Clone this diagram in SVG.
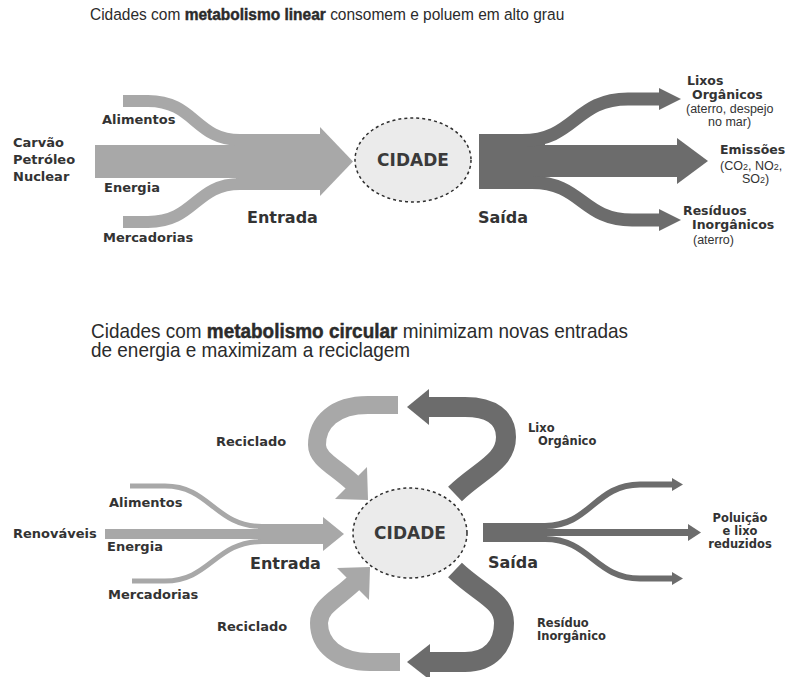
<svg xmlns="http://www.w3.org/2000/svg" width="795" height="677" viewBox="0 0 795 677">
<defs>
<style>
.title{font-family:"Liberation Sans",Arial,sans-serif;font-size:17px;fill:#2b2b2b}
.title2{font-size:19.5px}
.b{font-weight:bold;stroke:#2b2b2b;stroke-width:0.45}
.lbl{font-family:"DejaVu Sans",Verdana,sans-serif;font-weight:bold;font-size:13px;fill:#333}
.big{font-size:16px}
.mid{font-size:12.5px}
.sm{font-size:11.5px}
.note{font-family:"Liberation Sans",Arial,sans-serif;font-size:12.5px;fill:#333}
.sub{font-size:9px}
.in{fill:#a8a8a8}
.inS{fill:none;stroke:#a8a8a8}
.out{fill:#6c6c6c}
.outS{fill:none;stroke:#6c6c6c}
.city ellipse{fill:#ebebeb;stroke:#2e2e2e;stroke-width:1.5;stroke-dasharray:3 3}
.city text{font-family:"DejaVu Sans",Verdana,sans-serif;font-weight:bold;font-size:17px;fill:#3a3a3a;text-anchor:middle}
</style>
</defs>
<rect width="795" height="677" fill="#fff"/>

<!-- headings (slightly narrowed to the printed width) -->
<text id="title-linear" class="title" transform="translate(90,20) scale(0.912,1)">Cidades com <tspan class="b">metabolismo linear</tspan> consomem e poluem em alto grau</text>
<text id="title-circular" class="title title2" transform="translate(91,338) scale(0.972,1)"><tspan x="0" y="0">Cidades com <tspan class="b">metabolismo circular</tspan> minimizam novas entradas</tspan><tspan x="0" y="19">de energia e maximizam a reciclagem</tspan></text>

<g id="connectors">
<!-- linear: inputs -->
<rect class="in" x="95" y="145" width="228" height="33"/>
<rect class="in" x="236" y="134" width="87" height="56"/>
<polygon class="in" points="320,127 353,161.5 320,196"/>
<path class="inS" stroke-width="12" d="M123,101 H148 C195,101 195,140 240,140"/>
<path class="inS" stroke-width="12" d="M123,222 H148 C195,222 195,184 240,184"/>
<!-- linear: outputs -->
<rect class="out" x="479" y="134" width="66" height="55"/>
<rect class="out" x="479" y="145" width="200" height="32"/>
<polygon class="out" points="677,138 708,161 677,184"/>
<path class="outS" stroke-width="13" d="M479,140.5 H522 C575,140.5 575,99 628,99 H662"/>
<polygon class="out" points="659,88 681,99 659,110"/>
<path class="outS" stroke-width="13" d="M479,182.5 H532 C582,182.5 582,220 632,220 H662"/>
<polygon class="out" points="659,209 681,220 659,231"/>

<!-- circular: inputs -->
<rect class="in" x="105" y="529" width="220" height="10"/>
<rect class="in" x="258" y="524" width="67" height="20"/>
<polygon class="in" points="323,517 344,534 323,551"/>
<path class="inS" stroke-width="5" d="M130,486 H165 C210,486 215,526.5 262,526.5"/>
<path class="inS" stroke-width="5" d="M132,581 H165 C210,581 215,541.5 262,541.5"/>
<!-- circular: outputs -->
<rect class="out" x="483" y="523" width="64" height="19"/>
<rect class="out" x="483" y="529" width="207" height="7"/>
<polygon class="out" points="688,524 701,532.5 688,541"/>
<path class="outS" stroke-width="6" d="M483,526 H545 C590,526 595,484.5 640,484.5 H674"/>
<polygon class="out" points="672,478 683,484.5 672,491"/>
<path class="outS" stroke-width="6" d="M483,539 H545 C590,539 595,578.5 640,578.5 H674"/>
<polygon class="out" points="672,572 683,578.5 672,585"/>

<!-- circular: recycling loops -->
<path class="inS" stroke-width="18" d="M398,405 H368 C335,405 317,422 317,445 C317,460 337,467 356,486"/>
<polygon class="in" points="335,499 367,467 368,500"/>
<path class="inS" stroke-width="18" d="M400,662 H370 C338,662 319,645 319,623 C319,606 338,599 357,580"/>
<polygon class="in" points="337,568 369,600 370,567"/>
<path class="outS" stroke-width="20" d="M455,494 C480,470 506,462 506,437 C506,418 492,407 465,407 H427"/>
<polygon class="out" points="429,389 407,407 429,425"/>
<path class="outS" stroke-width="20" d="M455,570 C480,594 504,600 504,623 C504,646 490,662 465,662 H427"/>
<polygon class="out" points="430,644 407,662 430,680"/>
</g>

<g id="cidade-linear" class="city"><ellipse cx="413" cy="160" rx="58" ry="42"/><text x="413" y="166">CIDADE</text></g>
<g id="cidade-circular" class="city"><ellipse cx="410" cy="533" rx="57" ry="45"/><text x="410" y="539">CIDADE</text></g>

<!-- linear labels -->
<g id="src-linear" class="lbl"><text x="13" y="147">Carvão</text><text x="13" y="164">Petróleo</text><text x="13" y="181">Nuclear</text></g>
<g id="in-linear" class="lbl">
<text x="102" y="124">Alimentos</text>
<text x="104" y="192">Energia</text>
<text x="103" y="242">Mercadorias</text>
<text class="big" x="247" y="223">Entrada</text>
</g>
<g id="out-linear">
<text class="lbl big" x="478" y="223">Saída</text>
<text class="lbl mid" x="687" y="85">Lixos</text>
<text class="lbl mid" x="692" y="99">Orgânicos</text>
<text class="note" x="686" y="113">(aterro, despejo</text>
<text class="note" x="708" y="126">no mar)</text>
<text class="lbl mid" x="720" y="154">Emissões</text>
<text class="note" x="720" y="170">(CO<tspan class="sub">2</tspan>,  NO<tspan class="sub">2</tspan>,</text>
<text class="note" x="742" y="183">SO<tspan class="sub">2</tspan>)</text>
<text class="lbl mid" x="683" y="215">Resíduos</text>
<text class="lbl mid" x="692" y="229">Inorgânicos</text>
<text class="note" x="693" y="244">(aterro)</text>
</g>

<!-- circular labels -->
<g id="in-circular" class="lbl">
<text x="13" y="538">Renováveis</text>
<text x="109" y="507">Alimentos</text>
<text x="107" y="551">Energia</text>
<text x="108" y="599">Mercadorias</text>
<text class="big" x="250" y="569">Entrada</text>
<text x="216" y="446">Reciclado</text>
<text x="217" y="631">Reciclado</text>
</g>
<g id="out-circular" class="lbl">
<text class="big" x="488" y="568">Saída</text>
<text class="sm" x="528" y="432">Lixo</text>
<text class="sm" x="538" y="445">Orgânico</text>
<text class="sm" x="537" y="627">Resíduo</text>
<text class="sm" x="537" y="640">Inorgânico</text>
<text class="sm" x="740" y="522" text-anchor="middle">Poluição</text>
<text class="sm" x="740" y="535" text-anchor="middle">e lixo</text>
<text class="sm" x="740" y="548" text-anchor="middle">reduzidos</text>
</g>
</svg>
